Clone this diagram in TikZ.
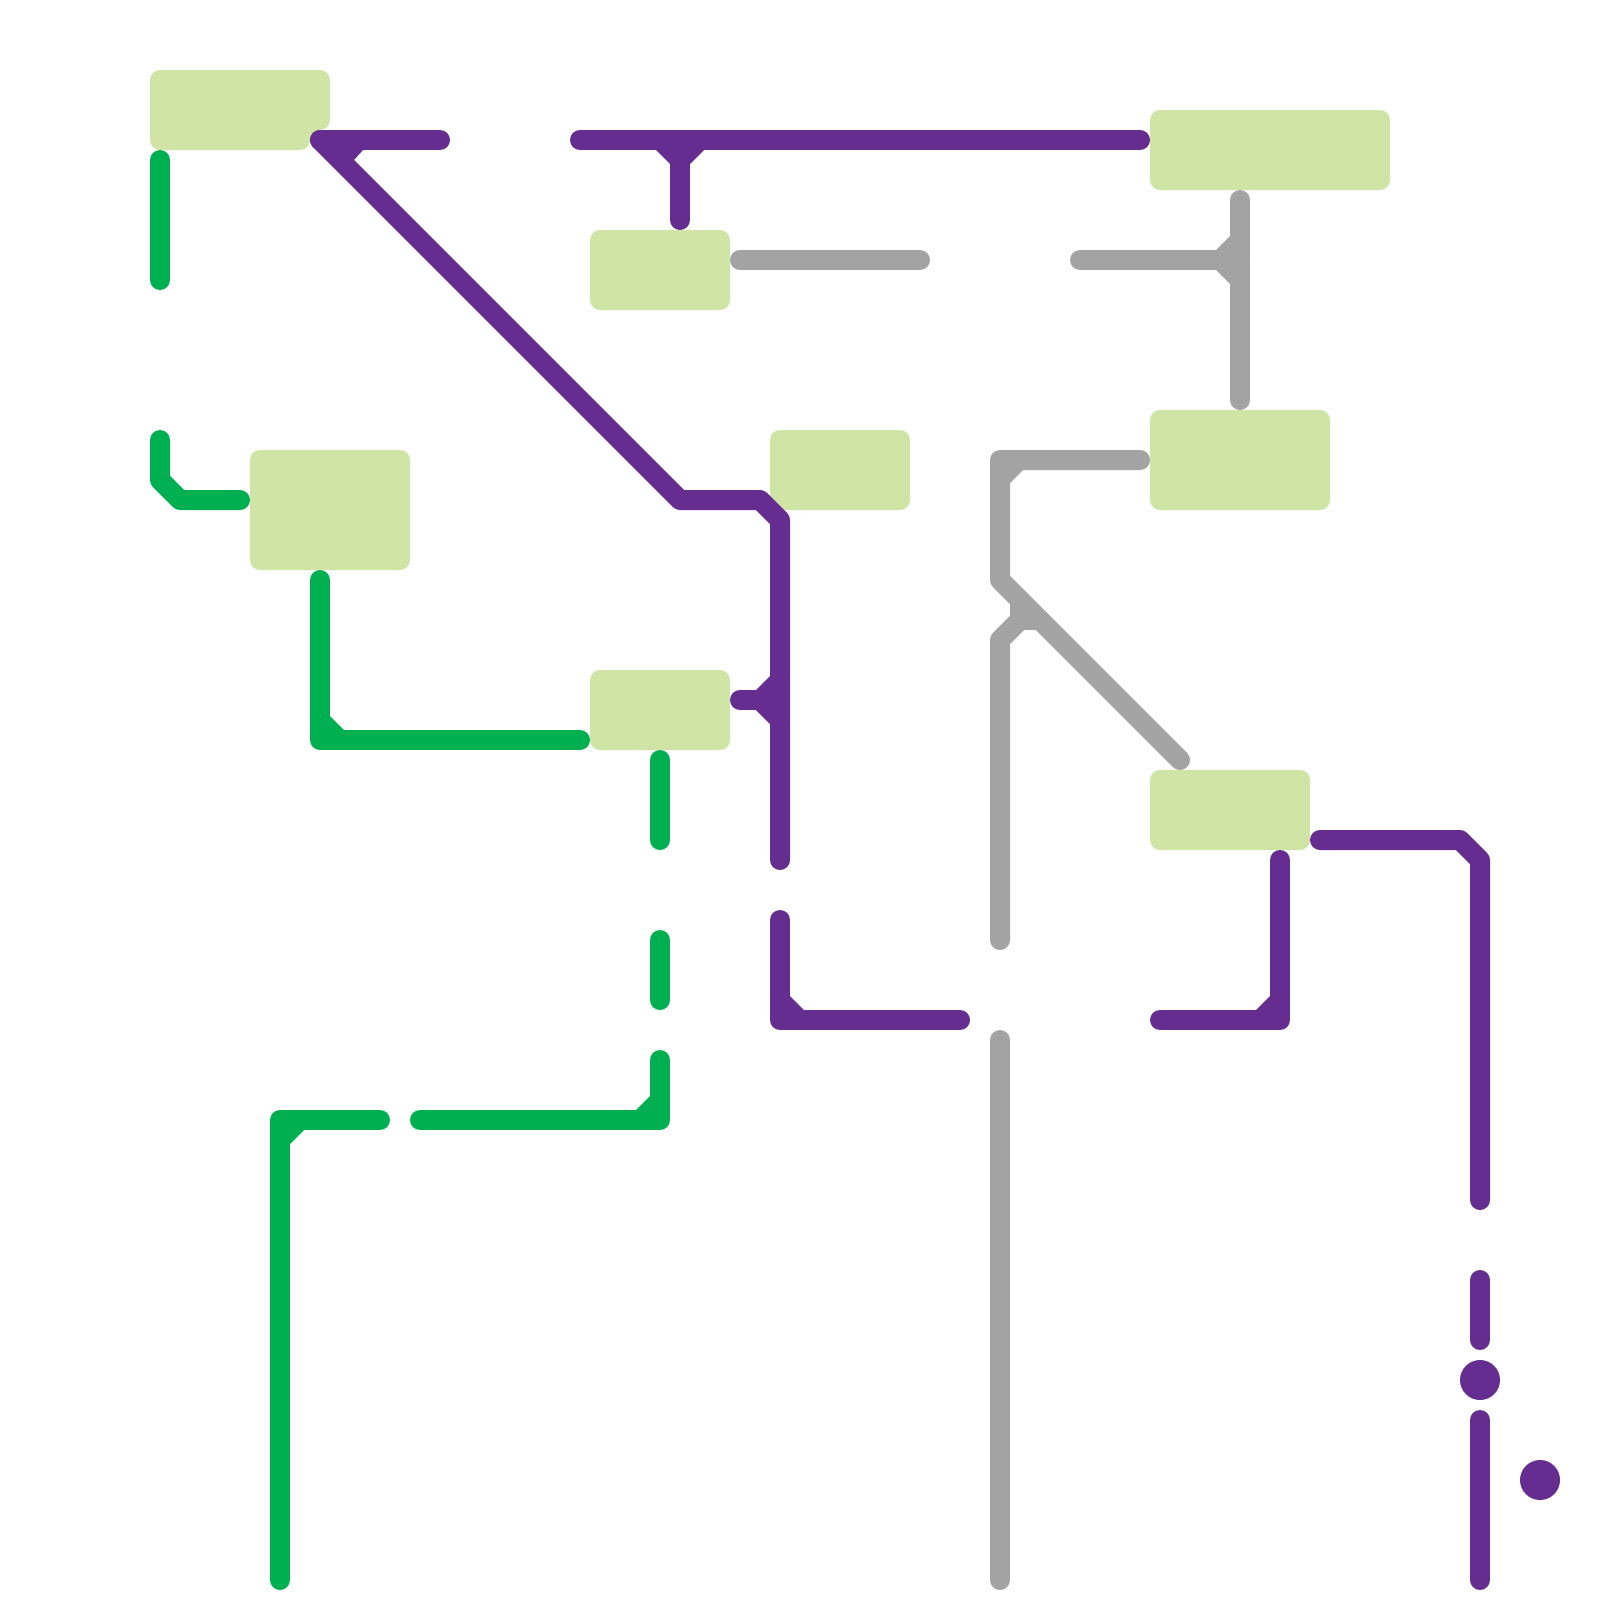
\documentclass[tikz,border=0pt]{standalone}
\definecolor{boxgreen}{HTML}{D0E5A5}
\definecolor{linegreen}{HTML}{00B050}
\definecolor{linepurple}{HTML}{662D91}
\definecolor{linegrey}{HTML}{A3A3A3}
\tikzset{
  area/.style={fill=boxgreen,draw=none,rounded corners=0.5cm,inner sep=0pt,outer sep=0pt},
  route/.style={line width=1cm,line cap=round,line join=round},
  gline/.style={route,draw=linegreen},
  pline/.style={route,draw=linepurple},
  aline/.style={route,draw=linegrey},
  dot/.style={circle,fill=linepurple,draw=none,minimum size=2cm,inner sep=0pt,outer sep=0pt}
}
\begin{document}
\begin{tikzpicture}[x=0.05cm,y=-0.05cm]
\useasboundingbox (0,0) rectangle (1600,1600);
% areas
\fill[area] (150,70) -- (330,70) -- (330,130) -- (310,130) -- (310,150) -- (150,150) -- cycle;
\node[area,minimum width=7cm,minimum height=4cm] (boxB) at (660,270) {};
\node[area,minimum width=12cm,minimum height=4cm] (boxC) at (1270,150) {};
\node[area,minimum width=9cm,minimum height=5cm] (boxD) at (1240,460) {};
\node[area,minimum width=7cm,minimum height=4cm] (boxE) at (840,470) {};
\node[area,minimum width=8cm,minimum height=6cm] (boxF) at (330,510) {};
\node[area,minimum width=7cm,minimum height=4cm] (boxG) at (660,710) {};
\node[area,minimum width=8cm,minimum height=4cm] (boxH) at (1230,810) {};
% green coordinates
\coordinate (g1) at (160,160); \coordinate (g2) at (160,280);
\coordinate (g3) at (160,440); \coordinate (g4) at (160,480); \coordinate (g5) at (180,500); \coordinate (g6) at (240,500);
\coordinate (g7) at (320,580); \coordinate (g8) at (320,740); \coordinate (g9) at (580,740);
\coordinate (g10) at (660,760); \coordinate (g11) at (660,840);
\coordinate (g12) at (660,940); \coordinate (g13) at (660,1000);
\coordinate (g14) at (660,1060); \coordinate (g15) at (660,1120); \coordinate (g16) at (420,1120);
\coordinate (g17) at (380,1120); \coordinate (g18) at (280,1120); \coordinate (g19) at (280,1580);
% green
\draw[gline] (g1) -- (g2);
\draw[gline] (g3) -- (g4) -- (g5) -- (g6);
\draw[gline] (g7) -- (g8) -- (g9);
\fill[linegreen] (g8) -- (330,716) -- (344,730) -- cycle;
\draw[gline] (g10) -- (g11);
\draw[gline] (g12) -- (g13);
\draw[gline] (g14) -- (g15) -- (g16);
\fill[linegreen] (g15) -- (636,1110) -- (650,1096) -- cycle;
\draw[gline] (g17) -- (g18) -- (g19);
\fill[linegreen] (g18) -- (290,1144) -- (304,1130) -- cycle;
% grey coordinates
\coordinate (a1) at (740,260); \coordinate (a2) at (920,260);
\coordinate (a3) at (1080,260); \coordinate (a4) at (1240,260);
\coordinate (a5) at (1240,200); \coordinate (a6) at (1240,400);
\coordinate (a7) at (1140,460); \coordinate (a8) at (1000,460); \coordinate (a9) at (1000,580); \coordinate (a10) at (1180,760);
\coordinate (a11) at (1000,940); \coordinate (a12) at (1000,640); \coordinate (a13) at (1020,620); \coordinate (a14) at (1020,600); \coordinate (a15) at (1040,620);
\coordinate (a16) at (1000,1040); \coordinate (a17) at (1000,1580);
% grey
\draw[aline] (a1) -- (a2);
\draw[aline] (a3) -- (a4);
\draw[aline] (a5) -- (a6);
\fill[linegrey] (1216,250) -- (1230,236) -- (1230,284) -- (1216,270) -- cycle;
\draw[aline] (a7) -- (a8) -- (a9) -- (a10);
\fill[linegrey] (a8) -- (1023,470) -- (1010,483) -- cycle;
\draw[aline] (a11) -- (a12) -- (a13) -- (a14);
\draw[aline] (a13) -- (a15);
\draw[aline] (a16) -- (a17);
% purple coordinates
\coordinate (p1) at (320,140); \coordinate (p2) at (440,140);
\coordinate (p3) at (680,500); \coordinate (p4) at (760,500); \coordinate (p5) at (780,520); \coordinate (p6) at (780,860);
\coordinate (p7) at (580,140); \coordinate (p8) at (1140,140);
\coordinate (p9) at (680,140); \coordinate (p10) at (680,220);
\coordinate (p11) at (740,700); \coordinate (p12) at (780,700);
\coordinate (p13) at (780,920); \coordinate (p14) at (780,1020); \coordinate (p15) at (960,1020);
\coordinate (p16) at (1160,1020); \coordinate (p17) at (1280,1020); \coordinate (p18) at (1280,860);
\coordinate (p19) at (1320,840); \coordinate (p20) at (1460,840); \coordinate (p21) at (1480,860); \coordinate (p22) at (1480,1200);
\coordinate (p23) at (1480,1280); \coordinate (p24) at (1480,1340);
\coordinate (p25) at (1480,1420); \coordinate (p26) at (1480,1580);
% purple
\draw[pline] (p1) -- (p2);
\draw[pline] (p1) -- (p3) -- (p4) -- (p5) -- (p6);
\fill[linepurple] (p1) -- (363,150) -- (354,160) -- cycle;
\draw[pline] (p7) -- (p8);
\draw[pline] (p9) -- (p10);
\fill[linepurple] (656,150) -- (704,150) -- (690,164) -- (670,164) -- cycle;
\draw[pline] (p11) -- (p12);
\fill[linepurple] (756,690) -- (770,676) -- (770,724) -- (756,710) -- cycle;
\draw[pline] (p13) -- (p14) -- (p15);
\fill[linepurple] (p14) -- (790,996) -- (804,1010) -- cycle;
\draw[pline] (p16) -- (p17) -- (p18);
\fill[linepurple] (p17) -- (1256,1010) -- (1270,996) -- cycle;
\draw[pline] (p19) -- (p20) -- (p21) -- (p22);
\draw[pline] (p23) -- (p24);
\draw[pline] (p25) -- (p26);
\node[dot] (dotA) at (1480,1380) {};
\node[dot] (dotB) at (1540,1480) {};
\end{tikzpicture}
\end{document}
